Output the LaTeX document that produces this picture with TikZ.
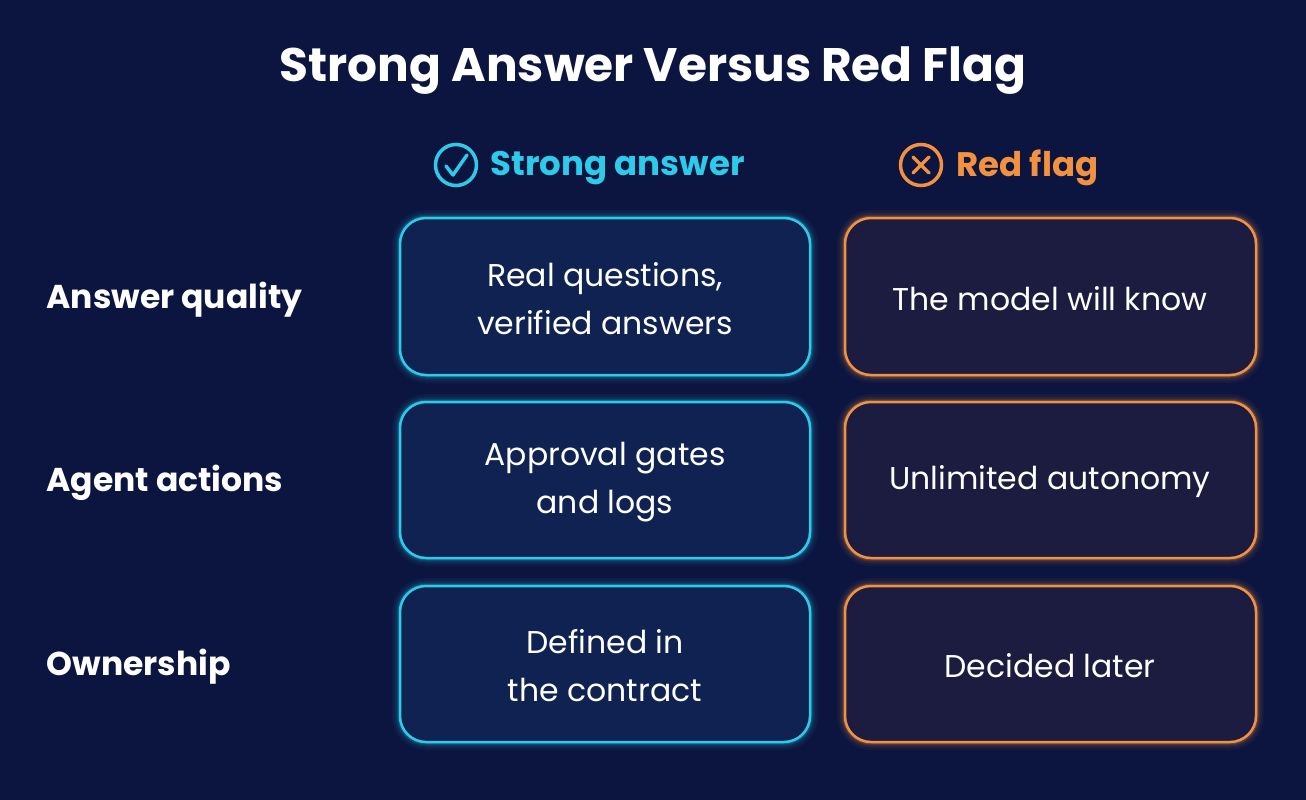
\documentclass[tikz,border=0pt]{standalone}
\usepackage{fontspec}
\setmainfont{Poppins}
\begin{document}
\definecolor{bg}{HTML}{0C1540}
\definecolor{cy}{HTML}{2CCBEA}
\definecolor{orr}{HTML}{F2913F}
\definecolor{fl}{HTML}{0F2252}
\definecolor{fr}{HTML}{1B1C3F}
\begin{tikzpicture}[x=1pt,y=-1pt,
 glow/.style n args={2}{draw=#1,line width=#2,rounded corners=26pt},
 lbl/.style={text=white,font=\fontsize{33}{40}\selectfont\bfseries,anchor=west},
 cell/.style={text=white,font=\fontsize{31.5}{48}\selectfont,align=center}]
\fill[bg] (0,0) rectangle (1306,800);
\useasboundingbox (0,0) rectangle (1306,800);
\node[text=white,font=\fontsize{47}{56}\selectfont\bfseries] (title) at (653,71) {Strong Answer Versus Red Flag};
% headers
\node[draw=cy,line width=3.5pt,circle,minimum size=41pt,inner sep=0] (ic1) at (456,165) {};
\draw[cy,line width=3.5pt,line cap=round,line join=round] (446,166) -- (453,175) -- (467,155);
\node[text=cy,font=\fontsize{34}{40}\selectfont\bfseries,anchor=west] (h1) at (487,168) {Strong answer};
\node[draw=orr,line width=3.5pt,circle,minimum size=41pt,inner sep=0] (ic2) at (921,165) {};
\draw[orr,line width=3.5pt,line cap=round] (913,157) -- (929,173) (929,157) -- (913,173);
\node[text=orr,font=\fontsize{34}{40}\selectfont\bfseries,anchor=west] (h2) at (953,168) {Red flag};
% rows
\foreach \yt/\yb/\lab/\ta/\tb [count=\i] in {
 218/375/{Answer quality}/{Real questions,\\verified answers}/{The model will know},
 402/558/{Agent actions}/{Approval gates\\and logs}/{Unlimited autonomy},
 586/742/{Ownership}/{Defined in\\the contract}/{Decided later}}{
 \foreach \w/\o in {16/0.05,11/0.08,7/0.12,4.5/0.2}{
   \draw[glow={cy}{\w pt},opacity=\o] (400,\yt) rectangle (810,\yb);
   \draw[glow={orr}{\w pt},opacity=\o] (845,\yt) rectangle (1256,\yb);}
 \draw[glow={cy}{2.5pt},fill=fl] (400,\yt) rectangle (810,\yb);
 \draw[glow={orr}{2.5pt},fill=fr] (845,\yt) rectangle (1256,\yb);
 \node[lbl] (l\i) at (43,{(\yt+\yb)/2+3}) {\lab};
 \node[cell] (a\i) at (605,{(\yt+\yb)/2+2}) {\ta};
 \node[cell] (b\i) at (1050,{(\yt+\yb)/2+2}) {\tb};
}
\end{tikzpicture}
\end{document}
